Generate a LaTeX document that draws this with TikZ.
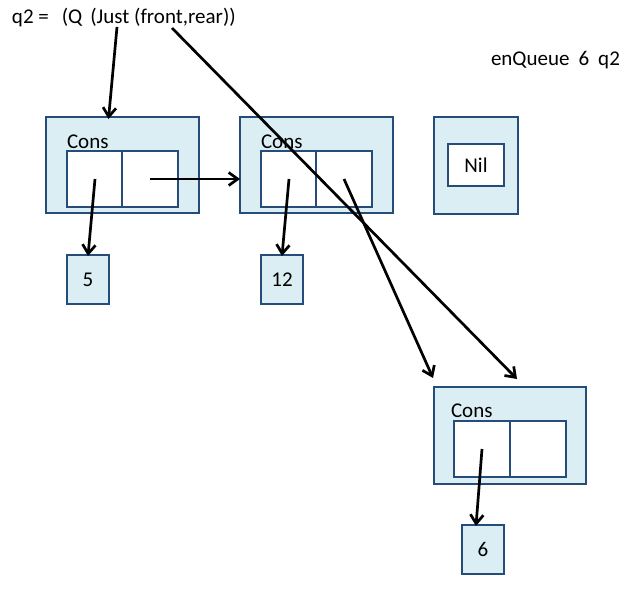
\documentclass[tikz,border=0pt]{standalone}
\usepackage{fontspec}
\setmainfont{Carlito}
\usetikzlibrary{arrows.meta,calc}
\definecolor{boxfill}{HTML}{DBEEF4}
\definecolor{boxline}{HTML}{264D7A}
\begin{document}
\begin{tikzpicture}[x=1pt,y=-1pt,
  every node/.style={inner sep=0pt,outer sep=0pt},
  consbox/.style={draw=boxline,line width=2.8pt,fill=boxfill,rectangle,minimum width=153pt,minimum height=96pt,anchor=north west},
  cellbox/.style={draw=boxline,line width=2.8pt,fill=white,rectangle,minimum width=56pt,minimum height=56pt,anchor=north west},
  valbox/.style={draw=boxline,line width=2.8pt,fill=boxfill,rectangle,minimum width=42pt,minimum height=49pt,anchor=north west,font=\fontsize{21}{25}\selectfont},
  lbl/.style={font=\fontsize{21}{25}\selectfont,anchor=west},
  ptr/.style={draw=black,line width=2.7pt,-{Straight Barb[length=9pt,width=13pt,line width=2.7pt]}}
]
\useasboundingbox (0,0) rectangle (639,597);

% header texts
\node[lbl] (title) at (12,18) {q2 =\hspace{13pt}(Q\hspace{8pt}(Just (front,rear))};
\node[lbl] (cmd) at (491,60) {enQueue\hspace{9pt}6\hspace{9pt}q2};
\coordinate (justpt) at (117,27);
\coordinate (frontpt) at (172,28);

% Cons 1
\node[consbox] (cons1) at (46,117) {};
\node[lbl] (cons1t) at (67,142) {Cons};
\node[cellbox] (c1l) at (67,151) {};
\node[cellbox] (c1r) at (122,151) {};
\node[valbox] (v5) at (67,255) {5};

% Cons 2
\node[consbox] (cons2) at (240,117) {};
\node[lbl] (cons2t) at (261,142) {Cons};
\node[cellbox] (c2l) at (261,151) {};
\node[cellbox] (c2r) at (316,151) {};
\node[valbox] (v12) at (261,255) {12};

% Nil
\node[consbox,minimum width=84pt,minimum height=97pt] (nilout) at (434,117) {};
\node[draw=boxline,line width=2.8pt,fill=white,rectangle,minimum width=56pt,minimum height=42pt,anchor=north west,font=\fontsize{21}{25}\selectfont] (nil) at (448,144) {Nil};

% Cons 3
\node[consbox,minimum width=152pt,minimum height=97pt] (cons3) at (434,387) {};
\node[lbl] (cons3t) at (451,411) {Cons};
\node[cellbox] (c3l) at (454,421) {};
\node[cellbox,minimum width=56pt] (c3r) at (510,421) {};
\node[valbox] (v6) at (462,525) {6};

% pointers
\coordinate (t3a) at (433,378);
\coordinate (t3b) at (517,379);
\draw[ptr] (justpt) -- ([xshift=-14pt,yshift=-2pt]cons1.north);
\draw[ptr] (frontpt) -- (t3b);
\draw[ptr] (c1r.center) -- (c1r.center -| cons2.west);
\draw[ptr] (c1l.center) -- ([yshift=-1pt]v5.north);
\draw[ptr] (c2l.center) -- ([yshift=-1pt]v12.north);
\draw[ptr] (c2r.center) -- (t3a);
\draw[ptr] (c3l.center) -- ([xshift=-7pt,yshift=-1pt]v6.north);
\end{tikzpicture}
\end{document}
